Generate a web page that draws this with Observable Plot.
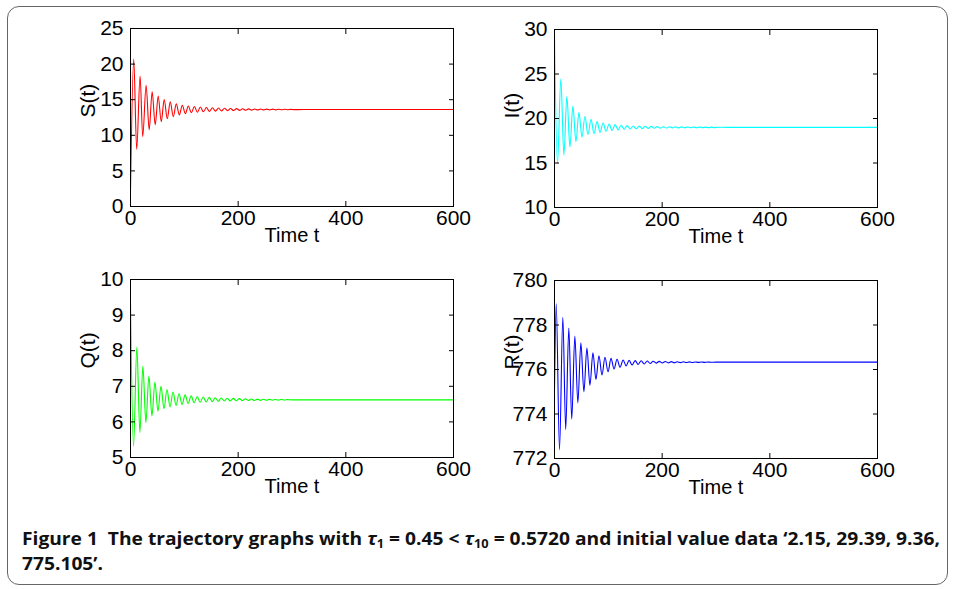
<!DOCTYPE html>
<html>
<head>
<meta charset="utf-8">
<script src="https://cdn.jsdelivr.net/npm/d3@7"></script>
<script src="https://cdn.jsdelivr.net/npm/@observablehq/plot@0.6"></script>
<style>
  html, body { margin: 0; padding: 0; background: #fff; }
  #root { position: relative; width: 956px; height: 589px; overflow: hidden; background: #fff; }
  #border { position: absolute; left: 7px; top: 6px; width: 941px; height: 579px; border: 1px solid #666; border-radius: 12px; box-sizing: border-box; }
  .panel { position: absolute; }
  .cap { position: absolute; left: 22px; font-family: "Open Sans", "Noto Sans", sans-serif; font-weight: 700; font-size: 18px; color: #111; white-space: nowrap; transform-origin: 0 50%; line-height: 1; }
  .cap sub { font-size: 12px; vertical-align: -3px; line-height: 0; }
</style>
</head>
<body>
<div id="root">
  <div id="border"></div>
  <div class="cap" id="cap1" style="top:529px">Figure 1&nbsp;&nbsp;The trajectory graphs with <i>τ</i><sub>1</sub> = 0.45 &lt; <i>τ</i><sub>10</sub> = 0.5720 and initial value data ‘2.15, 29.39, 9.36,</div>
  <div class="cap" id="cap2" style="top:554px">775.105’.</div>
</div>
<script>
// ---- data (extrema of each trajectory) ----
const xTicks = [0, 200, 400, 600];

const sTicks = [0, 5, 10, 15, 20, 25];
const sT = [0, 6.0, 11.5, 17.8, 22.7, 29.0, 34.7, 40.2, 45.9, 51.4, 57.1, 62.6, 68.3, 73.8, 79.5, 85.0, 90.7, 96.2, 101.9, 107.4, 113.1, 118.6, 124.3, 129.8, 135.5, 141.0, 146.7, 152.2, 157.9, 163.4, 169.1, 174.6, 180.3, 185.8, 191.5, 197.0, 202.7, 208.2, 213.9, 219.4, 225.1, 230.6, 236.3, 241.8, 247.5, 253.0, 258.7, 264.2, 269.9, 275.4, 281.1, 286.6, 292.3, 297.8, 303.5, 320, 600];
const sV = [2.15, 20.72, 8.02, 18.32, 9.82, 17.02, 10.77, 16.12, 11.47, 15.52, 11.92, 15.02, 12.32, 14.70, 12.62, 14.42, 12.87, 14.22, 13.05, 14.12, 13.16, 14.04, 13.23, 13.97, 13.30, 13.91, 13.35, 13.87, 13.39, 13.83, 13.43, 13.80, 13.455, 13.77, 13.48, 13.75, 13.50, 13.73, 13.52, 13.715, 13.532, 13.70, 13.545, 13.69, 13.555, 13.68, 13.565, 13.67, 13.575, 13.66, 13.585, 13.65, 13.595, 13.64, 13.605, 13.62, 13.62];

const iTicks = [10, 15, 20, 25, 30];
const iT = [0, 5.5, 11.8, 17.4, 23.0, 28.6, 34.2, 39.8, 45.4, 51.0, 56.6, 62.2, 67.8, 73.4, 79.0, 84.6, 90.2, 95.8, 101.4, 107.0, 112.6, 118.2, 123.8, 129.4, 135.0, 140.6, 146.2, 151.8, 157.4, 163.0, 168.6, 174.2, 179.8, 185.4, 191.0, 196.6, 202.2, 207.8, 213.4, 219.0, 224.6, 230.2, 235.8, 241.4, 247.0, 252.6, 258.2, 263.8, 269.4, 275.0, 280.6, 286.2, 291.8, 297.4, 303, 320, 600];
const iV = [29.39, 14.9, 24.45, 15.9, 22.5, 16.8, 21.4, 17.4, 20.7, 17.9, 20.25, 18.2, 19.9, 18.3, 19.65, 18.44, 19.5, 18.56, 19.39, 18.65, 19.31, 18.72, 19.25, 18.78, 19.2, 18.82, 19.16, 18.84, 19.14, 18.86, 19.125, 18.89, 19.11, 18.9, 19.09, 18.92, 19.08, 18.93, 19.07, 18.945, 19.062, 18.95, 19.055, 18.956, 19.05, 18.96, 19.044, 18.965, 19.04, 18.97, 19.035, 18.975, 19.03, 18.98, 19.02, 19.0, 19.0];

const qTicks = [5, 6, 7, 8, 9, 10];
const qT = [0, 5.6, 11.8, 17.4, 23.0, 28.6, 34.2, 39.8, 45.4, 51.0, 56.6, 62.2, 67.8, 73.4, 79.0, 84.6, 90.2, 95.8, 101.4, 107.0, 112.6, 118.2, 123.8, 129.4, 135.0, 140.6, 146.2, 151.8, 157.4, 163.0, 168.6, 174.2, 179.8, 185.4, 191.0, 196.6, 202.2, 207.8, 213.4, 219.0, 224.6, 230.2, 235.8, 241.4, 247.0, 252.6, 258.2, 263.8, 269.4, 275.0, 280.6, 286.2, 291.8, 300, 600];
const qV = [9.36, 5.31, 8.1, 5.7, 7.57, 5.98, 7.29, 6.17, 7.12, 6.3, 7.0, 6.37, 6.91, 6.42, 6.84, 6.46, 6.79, 6.49, 6.76, 6.515, 6.735, 6.535, 6.715, 6.55, 6.70, 6.56, 6.69, 6.57, 6.68, 6.578, 6.672, 6.585, 6.665, 6.59, 6.66, 6.595, 6.655, 6.598, 6.65, 6.60, 6.645, 6.603, 6.64, 6.606, 6.636, 6.608, 6.633, 6.61, 6.63, 6.612, 6.628, 6.614, 6.626, 6.62, 6.62];

const rTicks = [772, 774, 776, 778, 780];
const rT = [0, 3.2, 9.3, 15.5, 20.8, 26.6, 32.0, 37.8, 43.4, 49.0, 54.6, 60.2, 65.8, 71.4, 77.0, 82.6, 88.2, 93.8, 99.4, 105.0, 110.6, 116.2, 121.8, 127.4, 133.0, 138.6, 144.2, 149.8, 155.4, 161.0, 166.6, 172.2, 177.8, 183.4, 189.0, 194.6, 200.2, 205.8, 211.4, 217.0, 222.6, 228.2, 233.8, 239.4, 245.0, 250.6, 256.2, 261.8, 267.4, 273, 278.6, 284.2, 289.8, 300, 600];
const rV = [775.105, 778.95, 772.4, 778.35, 773.3, 777.86, 773.77, 777.5, 774.5, 777.2, 775.0, 776.96, 775.3, 776.75, 775.55, 776.62, 775.75, 776.55, 775.9, 776.5, 776.02, 776.46, 776.1, 776.43, 776.16, 776.41, 776.2, 776.4, 776.23, 776.39, 776.25, 776.38, 776.27, 776.37, 776.285, 776.365, 776.295, 776.36, 776.3, 776.355, 776.305, 776.35, 776.31, 776.345, 776.315, 776.342, 776.318, 776.34, 776.32, 776.338, 776.322, 776.336, 776.325, 776.33, 776.33];

// ---- drawing ----
const FW = 323, FH = 178, ML = 70, MT = 15, MR = 30, MB = 50;
const fmt = d3.format("d");

function panel({T, V, color, domain, ticks, label, left, top}) {
  const data = T.map((t, i) => ({t, v: V[i]}));
  const chart = Plot.plot({
    width: FW + ML + MR,
    height: FH + MT + MB,
    marginLeft: ML, marginTop: MT, marginRight: MR, marginBottom: MB,
    style: {fontFamily: "'Liberation Sans', Arial, Helvetica, sans-serif", fontSize: "21px", color: "#000", background: "transparent", overflow: "visible"},
    x: {domain: [0, 600]},
    y: {domain},
    marks: [
      Plot.line(data, {x: "t", y: "v", stroke: color, strokeWidth: 1.1, curve: "monotone-x", clip: true}),
      Plot.frame({stroke: "#000", strokeWidth: 1}),
      Plot.axisX({anchor: "bottom", ticks: xTicks, tickFormat: fmt, tickSize: -5, tickPadding: 9, label: null, fontSize: 21}),
      Plot.axisX({anchor: "top", ticks: xTicks, tickSize: -5, tickFormat: () => "", label: null}),
      Plot.axisY({anchor: "left", ticks, tickFormat: fmt, tickSize: -5, tickPadding: 12, label: null, fontSize: 21}),
      Plot.axisY({anchor: "right", ticks, tickSize: -5, tickFormat: () => "", label: null}),
      Plot.text([label], {frameAnchor: "left", dx: -42, rotate: -90, fontSize: 21}),
      Plot.text(["Time t"], {frameAnchor: "bottom", dy: 35, fontSize: 20})
    ]
  });
  chart.classList.add("panel");
  chart.style.left = (left - ML) + "px";
  chart.style.top = (top - MT) + "px";
  document.getElementById("root").appendChild(chart);
}

panel({T: sT, V: sV, color: "#ff0000", domain: [0, 25], ticks: sTicks, label: "S(t)", left: 130, top: 28});
panel({T: iT, V: iV, color: "#00ffff", domain: [10, 30], ticks: iTicks, label: "I(t)", left: 554, top: 29});
panel({T: qT, V: qV, color: "#00ff00", domain: [5, 10], ticks: qTicks, label: "Q(t)", left: 130, top: 279});
panel({T: rT, V: rV, color: "#0000ff", domain: [772, 780], ticks: rTicks, label: "R(t)", left: 554, top: 280});

// fit the caption's first line to the reference width
const cap1 = document.getElementById("cap1");
const w1 = cap1.getBoundingClientRect().width;
const k = 918 / w1;
cap1.style.transform = `scaleX(${k})`;
document.getElementById("cap2").style.transform = `scaleX(${k})`;
</script>
</body>
</html>
